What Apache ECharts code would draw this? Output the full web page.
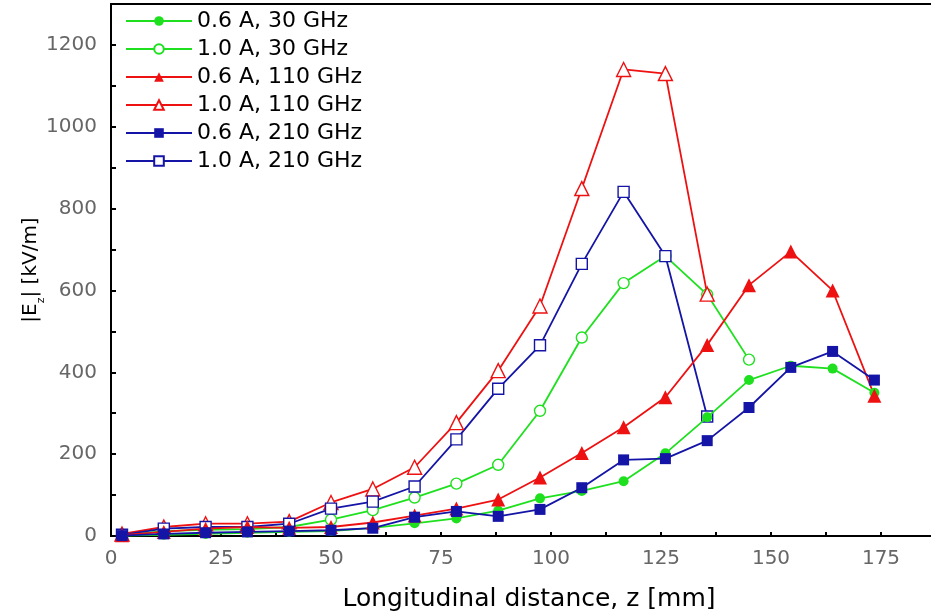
<!DOCTYPE html>
<html>
<head>
<meta charset="utf-8">
<script src="https://cdn.jsdelivr.net/npm/echarts@6/dist/echarts.min.js"></script>
<style>
  html, body { margin: 0; padding: 0; background: #fff; overflow: hidden; }
  /* the plot frame runs on past the right edge of the window */
  #chart { width: 960px; height: 611px; }
</style>
</head>
<body>
<div id="chart"></div>
<script>
// Longitudinal positions of the probe points, z [mm]
const zPositions = [2.5, 12, 21.5, 31, 40.5, 50, 59.5, 69, 78.5, 88, 97.5, 107, 116.5, 126, 135.5, 145, 154.5, 164, 173.5];

// |Ez| in kV/m for each beam current / frequency case
const ez06A30GHz  = [1, 3, 5, 8, 10, 12, 20, 31, 43, 62, 92, 110, 134, 202, 290, 381, 416, 409, 350];
const ez10A30GHz  = [2, 12, 15, 17, 22, 40, 63, 94, 128, 174, 306, 485, 618, 684, 590, 431];
const ez06A110GHz = [2, 10, 18, 22, 20, 22, 33, 50, 67, 89, 143, 203, 266, 339, 467, 613, 695, 600, 343];
const ez10A110GHz = [5, 22, 30, 30, 35, 82, 115, 168, 277, 404, 562, 849, 1140, 1130, 591];
const ez06A210GHz = [1, 5, 8, 10, 12, 14, 19, 46, 60, 48, 65, 118, 186, 189, 233, 314, 412, 451, 381];
const ez10A210GHz = [3, 18, 22, 22, 30, 67, 84, 121, 236, 360, 466, 665, 841, 684, 292];

const seriesNames = ['0.6 A, 30 GHz', '1.0 A, 30 GHz', '0.6 A, 110 GHz', '1.0 A, 110 GHz', '0.6 A, 210 GHz', '1.0 A, 210 GHz'];
const xTicks = [0, 25, 50, 75, 100, 125, 150, 175];
const yTicks = [0, 200, 400, 600, 800, 1000, 1200];

const GREEN = '#1fe01f';
const RED = '#ee1111';
const BLUE = '#1414a6';
const FONT = 'DejaVu Sans, Verdana, sans-serif';

function pairs(values) {
  return values.map((v, i) => [zPositions[i], v]);
}

function makeSeries(name, values, color, symbol, size, filled) {
  return {
    name: name,
    type: 'line',
    data: pairs(values),
    symbol: symbol,
    symbolSize: size,
    showSymbol: true,
    lineStyle: { color: color, width: 1.8 },
    itemStyle: {
      color: filled ? color : '#ffffff',
      borderColor: color,
      borderWidth: filled ? 0 : 1.4
    },
    emphasis: { disabled: true },
    z: filled ? 3 : 2
  };
}

const chart = echarts.init(document.getElementById('chart'), null, { renderer: 'canvas' });

chart.setOption({
  animation: false,
  backgroundColor: '#ffffff',
  grid: {
    left: 111, top: 4, right: 13, bottom: 75,
    outerBoundsMode: 'none',
    containLabel: false,
    show: true, borderColor: '#000', borderWidth: 2, backgroundColor: 'transparent'
  },
  legend: {
    orient: 'vertical',
    left: 120, top: 5,
    itemWidth: 66, itemHeight: 12, itemGap: 6,
    textStyle: { fontFamily: FONT, fontSize: 22, color: '#000' },
    data: seriesNames
  },
  xAxis: {
    type: 'value',
    min: 0, max: 190, interval: 12.5,
    name: 'Longitudinal distance, z [mm]',
    nameLocation: 'middle', nameGap: 51, nameMoveOverlap: false,
    nameTextStyle: { fontFamily: FONT, fontSize: 25, color: '#000' },
    axisLine: { show: true, lineStyle: { color: '#000', width: 2 } },
    axisTick: { show: true, inside: true, length: 4, lineStyle: { color: '#000', width: 2 } },
    axisLabel: {
      margin: 13,
      fontFamily: FONT, fontSize: 20, color: '#666',
      formatter: v => (xTicks.indexOf(v) >= 0 ? String(v) : '')
    },
    splitLine: { show: false }
  },
  yAxis: {
    type: 'value',
    min: 0, max: 1300, interval: 100,
    name: '|E{sub|z}| [kV/m]',
    nameLocation: 'middle', nameGap: 70, nameRotate: 90, nameMoveOverlap: false,
    nameTextStyle: {
      fontFamily: FONT, fontSize: 20, color: '#000',
      rich: { sub: { fontSize: 11, verticalAlign: 'bottom', padding: [0, 0, -6, 0], fontFamily: FONT, color: '#000' } }
    },
    axisLine: { show: true, lineStyle: { color: '#000', width: 2 } },
    axisTick: { show: true, inside: true, length: 5, lineStyle: { color: '#000', width: 2 } },
    axisLabel: {
      margin: 14,
      fontFamily: FONT, fontSize: 20, color: '#666',
      formatter: v => (yTicks.indexOf(v) >= 0 ? String(v) : '')
    },
    splitLine: { show: false }
  },
  series: [
    makeSeries(seriesNames[0], ez06A30GHz, GREEN, 'circle', 10, true),
    makeSeries(seriesNames[1], ez10A30GHz, GREEN, 'circle', 11, false),
    makeSeries(seriesNames[2], ez06A110GHz, RED, 'triangle', 14, true),
    makeSeries(seriesNames[3], ez10A110GHz, RED, 'triangle', 14, false),
    makeSeries(seriesNames[4], ez06A210GHz, BLUE, 'rect', 11, true),
    makeSeries(seriesNames[5], ez10A210GHz, BLUE, 'rect', 11, false)
  ]
});
</script>
</body>
</html>
